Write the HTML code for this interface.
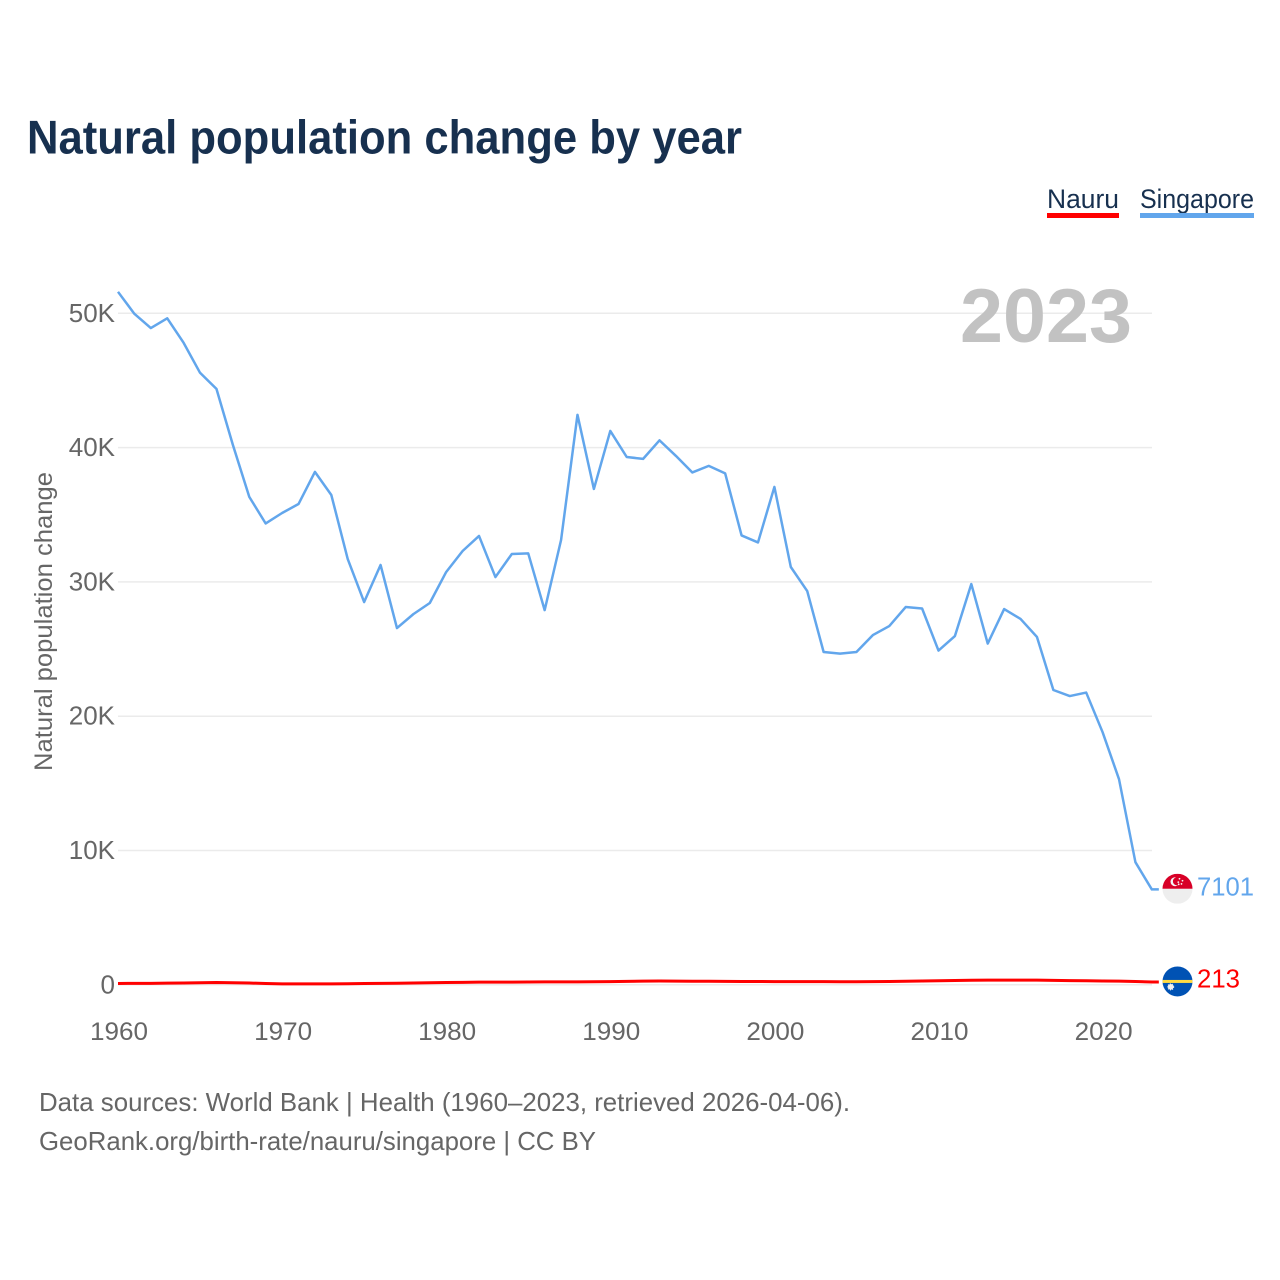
<!DOCTYPE html>
<html>
<head>
<meta charset="utf-8">
<title>Natural population change by year</title>
<style>
html,body{margin:0;padding:0;background:#fff;width:1280px;height:1280px;overflow:hidden}
svg{display:block;font-family:"Liberation Sans",sans-serif}
</style>
</head>
<body>
<svg id="chart" width="1280" height="1280" viewBox="0 0 1280 1280" xmlns="http://www.w3.org/2000/svg">
  <defs>
    <clipPath id="flag-clip-sg"><circle id="sg-clip-circle" cx="0" cy="0" r="15"/></clipPath>
    <clipPath id="flag-clip-nr"><circle id="nr-clip-circle" cx="0" cy="0" r="15"/></clipPath>
  </defs>
  <text x="27" y="153.5" font-size="47" font-weight="700" fill="#17304f" textLength="715" lengthAdjust="spacingAndGlyphs">Natural population change by year</text>

  <g>
    <g>
      <text x="1047" y="208" font-size="27" fill="#17304f" textLength="72" lengthAdjust="spacingAndGlyphs">Nauru</text>
      <rect x="1047" y="213" width="72" height="5" fill="#ff0000"/>
    </g>
    <g>
      <text x="1140" y="208" font-size="27" fill="#17304f" textLength="114" lengthAdjust="spacingAndGlyphs">Singapore</text>
      <rect x="1140" y="213" width="114" height="5" fill="#62a6ec"/>
    </g>
  </g>

  <text transform="translate(52 771) rotate(-90)" font-size="25" fill="#666666" textLength="299" lengthAdjust="spacingAndGlyphs">Natural population change</text>
  <g id="grid"></g>
  <text x="960" y="342" font-size="76" font-weight="700" fill="#c2c2c2" textLength="172" lengthAdjust="spacingAndGlyphs">2023</text>
  <g id="y-ticks"></g>
  <g id="x-ticks"></g>
  <g id="series"></g>

  <g id="flag-sg">
    <g clip-path="url(#flag-clip-sg)">
      <rect x="-15" y="0" width="30" height="15" fill="#eeeeee"/>
      <rect x="-15" y="-15" width="30" height="15" fill="#d80027"/>
      <circle cx="-2.5" cy="-7" r="4.5" fill="#f4f4f4"/>
      <circle cx="-0.6" cy="-7.4" r="4" fill="#d80027"/>
      <circle cx="2" cy="-10" r="0.9" fill="#f4f4f4"/>
      <circle cx="5" cy="-8" r="0.9" fill="#f4f4f4"/>
      <circle cx="0.8" cy="-6.6" r="0.9" fill="#f4f4f4"/>
      <circle cx="4" cy="-4.8" r="0.9" fill="#f4f4f4"/>
      <circle cx="1.2" cy="-4.4" r="0.9" fill="#f4f4f4"/>
    </g>
  </g>
  <g id="flag-nr">
    <g clip-path="url(#flag-clip-nr)">
      <rect x="-15" y="-15" width="30" height="30" fill="#0052b4"/>
      <rect x="-15" y="-1.5" width="30" height="3" fill="#ffda44"/>
      <circle cx="-6.8" cy="5.4" r="2.8" fill="#f0f0f0" stroke="#f0f0f0" stroke-width="1.4" stroke-dasharray="1 1"/>
    </g>
  </g>
  <text id="label-sg" x="1197" font-size="26" fill="#62a6ec" textLength="57" lengthAdjust="spacingAndGlyphs"></text>
  <text id="label-nr" x="1197" font-size="26" fill="#ff0000" textLength="43" lengthAdjust="spacingAndGlyphs"></text>

  <g>
    <text x="39" y="1111" font-size="26" fill="#666666" textLength="811" lengthAdjust="spacingAndGlyphs">Data sources: World Bank | Health (1960–2023, retrieved 2026-04-06).</text>
    <text x="39" y="1150" font-size="26" fill="#666666" textLength="557" lengthAdjust="spacingAndGlyphs">GeoRank.org/birth-rate/nauru/singapore | CC BY</text>
  </g>
</svg>
<script>
const firstYear = 1960;
const singaporeValues = [51600,49960,48900,49630,47800,45570,44370,40200,36330,34350,35130,35800,38190,36470,31700,28500,31260,26560,27600,28430,30740,32300,33420,30360,32080,32120,27900,33120,42440,36920,41240,39300,39160,40540,39380,38150,38640,38080,33460,32940,37070,31110,29320,24780,24660,24780,26040,26710,28130,28020,24890,25970,29840,25410,27980,27240,25900,21950,21500,21760,18810,15310,9130,7101];
const nauruValues = [100,105,110,125,135,150,170,150,130,95,70,65,65,70,80,95,105,115,130,150,170,185,195,200,200,205,215,215,220,230,240,255,270,280,270,265,260,255,250,245,240,235,235,235,230,230,240,250,265,285,305,325,340,345,345,345,345,330,315,305,285,270,245,213];
const yTickValues = [0,10000,20000,30000,40000,50000];
const yTickLabels = ["0","10K","20K","30K","40K","50K"];
const xTickValues = [1960,1970,1980,1990,2000,2010,2020];

const NS = 'http://www.w3.org/2000/svg';
const plotLeft = 118, yearStep = 16.41, zeroY = 984.8, pxPerUnit = 134.3 / 10000, plotRight = 1152;
function xScale(year){ return plotLeft + (year - firstYear) * yearStep; }
function yScale(v){ return zeroY - v * pxPerUnit; }
function make(tag, attrs, parent, text){
  const el = document.createElementNS(NS, tag);
  for (const k in attrs) el.setAttribute(k, attrs[k]);
  if (text !== undefined) el.textContent = text;
  parent.appendChild(el);
  return el;
}
const gridGroup = document.getElementById('grid');
const yTickGroup = document.getElementById('y-ticks');
const xTickGroup = document.getElementById('x-ticks');
const seriesGroup = document.getElementById('series');

yTickValues.forEach(function(v, i){
  const line = make('line', {x1: plotLeft, x2: plotRight, y1: yScale(v), y2: yScale(v), stroke: '#ebebeb', 'stroke-width': 1.5}, gridGroup);
  
  
  const label = make('text', {x: 115, y: yScale(v) + 8.5, 'text-anchor': 'end', 'font-size': 26, fill: '#666666'}, yTickGroup, yTickLabels[i]);
  
  
});
xTickValues.forEach(function(year){
  const label = make('text', {x: xScale(year) + 1, y: 1040, 'text-anchor': 'middle', 'font-size': 25, fill: '#666666', textLength: 58, lengthAdjust: 'spacingAndGlyphs'}, xTickGroup, String(year));
  
  
});
function linePath(values){
  let d = values.map(function(v, i){ return (i ? 'L' : 'M') + xScale(firstYear + i).toFixed(2) + ' ' + yScale(v).toFixed(2); }).join(' ');
  d += ' h7';
  return d;
}
const sgLine = make('path', {d: linePath(singaporeValues), fill: 'none', stroke: '#62a6ec', 'stroke-width': 2.5, 'stroke-linejoin': 'round'}, seriesGroup);


const nrLine = make('path', {d: linePath(nauruValues), fill: 'none', stroke: '#ff0000', 'stroke-width': 3, 'stroke-linejoin': 'round'}, seriesGroup);



const sgLast = singaporeValues[singaporeValues.length - 1];
const nrLast = nauruValues[nauruValues.length - 1];
document.getElementById('flag-sg').setAttribute('transform', 'translate(1177.5 ' + (yScale(sgLast) - 0.7).toFixed(2) + ')');
document.getElementById('flag-nr').setAttribute('transform', 'translate(1177.5 ' + (yScale(nrLast) - 0.5).toFixed(2) + ')');
const labelSg = document.getElementById('label-sg');
labelSg.textContent = String(sgLast);
labelSg.setAttribute('y', (yScale(sgLast) + 6).toFixed(2));
const labelNr = document.getElementById('label-nr');
labelNr.textContent = String(nrLast);
labelNr.setAttribute('y', (yScale(nrLast) + 5.5).toFixed(2));
</script>
</body>
</html>
